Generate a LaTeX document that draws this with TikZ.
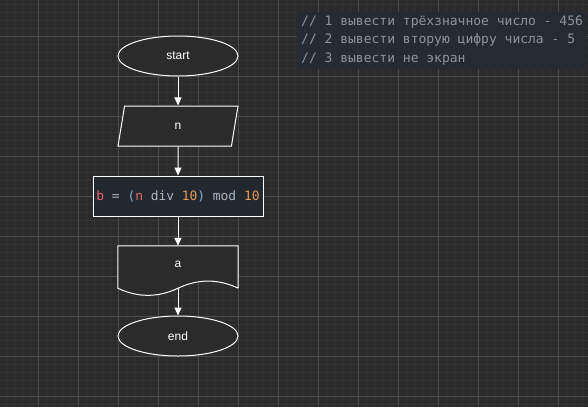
\documentclass[tikz,border=0pt]{standalone}
\usepackage{fontspec}
\setmainfont{Liberation Sans}
\newfontfamily\codefont{DejaVu Sans Mono}
\usetikzlibrary{shapes.geometric,arrows.meta,backgrounds}
\definecolor{canvasbg}{HTML}{2B2B2B}
\definecolor{minorline}{HTML}{333333}
\definecolor{majorline}{HTML}{4A4A4A}
\definecolor{notebg}{HTML}{262B33}
\definecolor{notetext}{HTML}{8A949E}
\definecolor{codebg}{HTML}{23272E}
\definecolor{cred}{HTML}{E5676F}
\definecolor{cplain}{HTML}{A9B7C6}
\definecolor{cparen}{HTML}{7FAEDB}
\definecolor{cnum}{HTML}{E39A5B}
\tikzset{
  block/.style={draw=white, line width=1pt, fill=canvasbg, text=white,
    font=\fontsize{12pt}{14pt}\selectfont},
  terminal/.style={block, ellipse, minimum width=120pt, minimum height=40pt, inner sep=0pt},
  io/.style={block, trapezium, trapezium left angle=63.4, trapezium right angle=116.6,
    trapezium stretches body, minimum width=120pt, minimum height=40pt},
  process/.style={block, rectangle, fill=codebg, minimum width=170pt, minimum height=40pt,
    font=\codefont\fontsize{12.9pt}{15pt}\selectfont},
  docbox/.style={rectangle, minimum width=120pt, minimum height=42pt, text=white,
    text depth=6pt, font=\fontsize{12pt}{14pt}\selectfont},
  comment/.style={anchor=north west, fill=notebg, text=notetext, align=left,
    minimum width=281pt, minimum height=56pt, inner xsep=4pt,
    font=\codefont\fontsize{13pt}{18.7pt}\selectfont},
  flow/.style={draw=white, line width=1pt, -{Triangle[length=8pt,width=7pt]}},
}
\begin{document}
\begin{tikzpicture}[x=1pt, y=-1pt]
  \useasboundingbox (0,0) rectangle (588,407);
  % Canvas grid
  \begin{scope}[on background layer]
    \fill[canvasbg] (0,0) rectangle (588,407);
    \foreach \x in {6,14,...,582} \draw[minorline, line width=1pt] (\x,0) -- (\x,407);
    \foreach \y in {4,12,...,404} \draw[minorline, line width=1pt] (0,\y) -- (588,\y);
    \foreach \x in {38,78,...,558} \draw[majorline, line width=1pt] (\x,0) -- (\x,407);
    \foreach \y in {36,76,...,396} \draw[majorline, line width=1pt] (0,\y) -- (588,\y);
  \end{scope}

  % Notes
  \node[comment] (notes) at (297,12) {// 1 вывести трёхзначное число - 456\\
    // 2 вывести вторую цифру числа - 5\\
    // 3 вывести не экран};

  % Flowchart
  \node[terminal] (start) at (178,56) {start};
  \node[io] (n) at (178,126) {n};
  \node[process] (b) at (178,196) {{\color{cred}b} {\color{cplain}=}
    {\color{cparen}(}{\color{cred}n} {\color{cplain}div} {\color{cnum}10}{\color{cparen})}
    {\color{cplain}mod} {\color{cnum}10}};
  \node[docbox] (a) at (178,267) {a};
  \begin{scope}[on background layer]
    \draw[block] (a.south east) -- (a.north east) -- (a.north west) -- (a.south west)
      .. controls +(20,9.5) and +(-20,9.5) .. (a.south)
      .. controls +(20,-9.5) and +(-20,-9.5) .. (a.south east);
  \end{scope}
  \node[terminal] (end) at (178,336) {end};

  \draw[flow] (start) -- (n);
  \draw[flow] (n) -- (b);
  \draw[flow] (b) -- (a);
  \draw[flow] (a.south) -- (end);
\end{tikzpicture}
\end{document}
